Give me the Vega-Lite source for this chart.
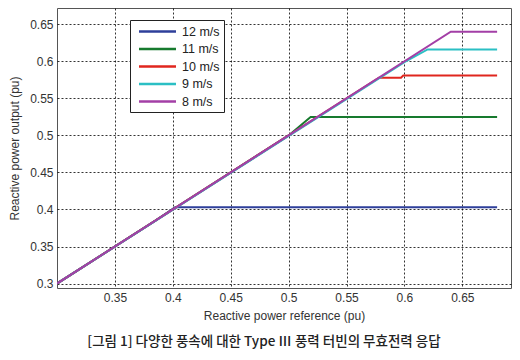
{
  "$schema": "https://vega.github.io/schema/vega-lite/v6.json",
  "autosize": {"type": "none"},
  "width": 454,
  "height": 280,
  "padding": {"left": 57, "top": 8, "right": 9, "bottom": 72},
  "background": "white",
  "config": {
    "view": {"stroke": "#555555", "strokeWidth": 1},
    "font": "Liberation Sans"
  },
  "title": {
    "text": "[그림 1] 다양한 풍속에 대한 Type Ⅲ 풍력 터빈의 무효전력 응답",
    "orient": "bottom",
    "anchor": "middle",
    "dx": -20,
    "offset": 14,
    "font": "Noto Sans CJK KR",
    "fontSize": 13.5,
    "fontWeight": 500,
    "color": "#222222"
  },
  "data": {
    "values": [
      {"speed": "12 m/s", "ref": 0.3, "out": 0.3},
      {"speed": "12 m/s", "ref": 0.385, "out": 0.385},
      {"speed": "12 m/s", "ref": 0.402, "out": 0.403},
      {"speed": "12 m/s", "ref": 0.68, "out": 0.403},
      {"speed": "11 m/s", "ref": 0.3, "out": 0.3},
      {"speed": "11 m/s", "ref": 0.5, "out": 0.5},
      {"speed": "11 m/s", "ref": 0.519, "out": 0.525},
      {"speed": "11 m/s", "ref": 0.68, "out": 0.525},
      {"speed": "10 m/s", "ref": 0.3, "out": 0.3},
      {"speed": "10 m/s", "ref": 0.578, "out": 0.578},
      {"speed": "10 m/s", "ref": 0.597, "out": 0.578},
      {"speed": "10 m/s", "ref": 0.599, "out": 0.581},
      {"speed": "10 m/s", "ref": 0.68, "out": 0.581},
      {"speed": "9 m/s", "ref": 0.3, "out": 0.3},
      {"speed": "9 m/s", "ref": 0.6, "out": 0.599},
      {"speed": "9 m/s", "ref": 0.62, "out": 0.616},
      {"speed": "9 m/s", "ref": 0.68, "out": 0.616},
      {"speed": "8 m/s", "ref": 0.3, "out": 0.3},
      {"speed": "8 m/s", "ref": 0.64, "out": 0.64},
      {"speed": "8 m/s", "ref": 0.68, "out": 0.64}
    ]
  },
  "mark": {"type": "line", "strokeWidth": 2, "clip": true},
  "encoding": {
    "x": {
      "field": "ref",
      "type": "quantitative",
      "scale": {"domain": [0.3, 0.692], "nice": false, "zero": false},
      "axis": {
        "title": "Reactive power reference (pu)",
        "titleFontSize": 12,
        "titleFontWeight": "normal",
        "titleColor": "#333333",
        "titlePadding": 7,
        "values": [0.35, 0.4, 0.45, 0.5, 0.55, 0.6, 0.65],
        "format": "~g",
        "labelFontSize": 12,
        "labelColor": "#333333",
        "labelPadding": 4,
        "tickSize": 0,
        "domain": false,
        "grid": true,
        "gridColor": "#000000",
        "gridDash": [2, 2],
        "gridWidth": 1,
        "gridOpacity": 0.8
      }
    },
    "y": {
      "field": "out",
      "type": "quantitative",
      "scale": {"domain": [0.294, 0.672], "nice": false, "zero": false},
      "axis": {
        "title": "Reactive power output (pu)",
        "titleFontSize": 12,
        "titleFontWeight": "normal",
        "titleColor": "#333333",
        "titlePadding": 8,
        "values": [0.3, 0.35, 0.4, 0.45, 0.5, 0.55, 0.6, 0.65],
        "format": "~g",
        "labelFontSize": 12,
        "labelColor": "#333333",
        "labelPadding": 4,
        "tickSize": 0,
        "domain": false,
        "grid": true,
        "gridColor": "#000000",
        "gridDash": [2, 2],
        "gridWidth": 1,
        "gridOpacity": 0.8
      }
    },
    "color": {
      "field": "speed",
      "type": "nominal",
      "sort": ["12 m/s", "11 m/s", "10 m/s", "9 m/s", "8 m/s"],
      "scale": {
        "domain": ["12 m/s", "11 m/s", "10 m/s", "9 m/s", "8 m/s"],
        "range": ["#2e3f9a", "#177a2e", "#e0261e", "#2bbfc4", "#a33fa6"]
      },
      "legend": {
        "title": null,
        "orient": "none",
        "legendX": 73,
        "legendY": 12,
        "symbolType": "M-3,0H3",
        "symbolSize": 152,
        "symbolStrokeWidth": 2.5,
        "symbolOffset": 16,
        "labelOffset": 17,
        "labelFontSize": 12.5,
        "labelColor": "#222222",
        "rowPadding": 3.5,
        "padding": 4,
        "strokeColor": "#222222",
        "fillColor": "white"
      }
    }
  }
}
